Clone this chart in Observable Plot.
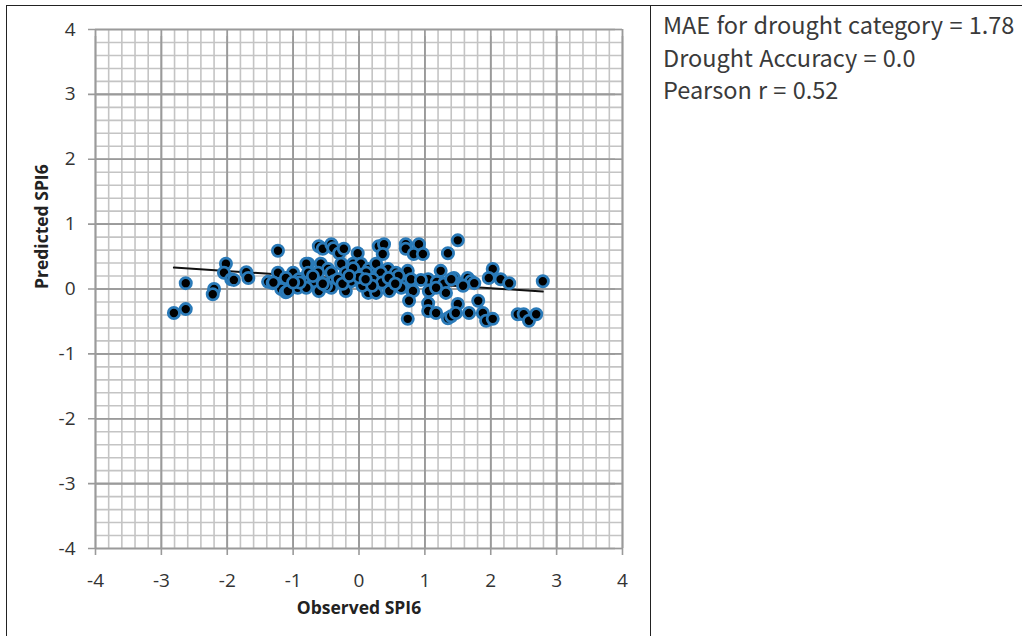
<!DOCTYPE html>
<html>
<head>
<meta charset="utf-8">
<script src="https://cdn.jsdelivr.net/npm/d3@7"></script>
<script src="https://cdn.jsdelivr.net/npm/@observablehq/plot@0.6"></script>
<style>
  html, body { margin: 0; padding: 0; background: #fff; }
  #page { position: relative; width: 1022px; height: 636px; overflow: hidden; }
  #frame { position: absolute; left: 6px; top: 5px; width: 1100px; height: 700px; border-left: 1.5px solid #222; border-top: 1.5px solid #222; }
  #divider { position: absolute; left: 650px; top: 5px; width: 0; height: 700px; border-left: 1.5px solid #222; }
  #chart { position: absolute; left: 0; top: 0; }
  #stats { position: absolute; left: 663px; top: 8px; font-family: "Noto Sans CJK KR", "Noto Sans", sans-serif; font-size: 23.5px; line-height: 32.5px; color: #3a3a3a; white-space: nowrap; word-spacing: 1px; }
</style>
</head>
<body>
<div id="page">
  <div id="chart"></div>
  <div id="frame"></div>
  <div id="divider"></div>
  <div id="stats"></div>
</div>
<script>
// Observed SPI6 (x) and predicted SPI6 (y)
const observed = [
  -2.81, -2.63, -2.63, -2.20, -2.22, -2.02, -2.05, -1.94, -1.90, -1.71, -1.68,
  -1.23, -1.38, -1.31, -1.23, -1.18, -1.11, -1.00, -0.93, -0.83, -0.77,
  -0.61, -0.55, -0.42, -0.39, -0.30, -0.23, -0.02, 0.30, 0.38, 0.36,
  0.71, 0.71, 0.91, 0.83, 0.97, 1.50, 1.35,
  -0.80, -0.58, -0.47, -0.27, -0.09, 0.03, 0.15, 0.26, 0.44,
  -0.77, -0.62, -0.42, -0.20, -0.05, 0.11, 0.33, 0.56,
  -1.11, -0.91, -0.68, -0.38, -0.12, 0.21, 0.49, 0.71,
  -1.08, -0.80, -0.61, -0.42, -0.20, 0.14, 0.26, 0.46,
  0.67, -0.32, -0.09, 0.74, 0.80, 0.79, 1.05, 0.94, 1.24, 1.18,
  1.44, 1.58, 1.65, 1.70, 1.75, 2.03, 1.97, 2.15, 2.28, 2.79,
  0.64, 0.82, 1.06, 1.29, 1.32, 1.58, 1.17, 1.40,
  0.76, 1.05, 1.50, 1.81,
  1.05, 1.17, 1.35, 1.40, 1.47, 1.67, 1.88, 1.93, 2.03, 2.41, 2.50, 2.58, 2.69,
  0.74,
  -0.50, -0.25, 0.05, 0.35, 0.60, -0.70, 0.00, -0.15, 0.20, 0.45, -0.90, -1.30,
  -0.55, 0.10, 0.55, -1.00
];
const predicted = [
  -0.37, -0.31, 0.09, 0.00, -0.08, 0.39, 0.25, 0.15, 0.14, 0.26, 0.17,
  0.59, 0.11, 0.09, 0.25, 0.00, -0.05, 0.25, 0.02, 0.17, 0.39,
  0.66, 0.62, 0.69, 0.63, 0.55, 0.62, 0.55, 0.66, 0.69, 0.54,
  0.69, 0.62, 0.69, 0.54, 0.54, 0.75, 0.55,
  0.39, 0.39, 0.31, 0.39, 0.39, 0.39, 0.31, 0.39, 0.31,
  0.25, 0.25, 0.25, 0.25, 0.25, 0.25, 0.25, 0.25,
  0.17, 0.15, 0.12, 0.12, 0.12, 0.15, 0.12, 0.12,
  -0.03, 0.02, -0.03, 0.02, -0.03, -0.06, -0.06, -0.03,
  0.08, 0.15, 0.32, 0.28, -0.02, 0.15, 0.15, 0.14, 0.28, 0.11,
  0.17, 0.09, 0.17, 0.12, 0.09, 0.31, 0.17, 0.15, 0.09, 0.12,
  0.02, -0.03, -0.03, 0.08, -0.06, 0.05, 0.02, 0.15,
  -0.18, -0.22, -0.23, -0.18,
  -0.34, -0.37, -0.45, -0.42, -0.37, -0.37, -0.37, -0.49, -0.46, -0.39, -0.39, -0.49, -0.39,
  -0.46,
  0.05, 0.08, 0.05, 0.10, 0.20, 0.20, 0.18, 0.20, 0.05, 0.17, 0.10, 0.10,
  0.08, 0.15, 0.08, 0.10
];
// Linear trend line end points
const trendX = [-2.81, 2.79];
const trendY = [0.33, -0.04];
// Axis ticks
const majorTicks = [-4, -3, -2, -1, 0, 1, 2, 3, 4];
const minorTicks = d3.range(-4, 4.0001, 0.2).map(v => Math.round(v * 10) / 10);
const xTitle = "Observed SPI6";
const yTitle = "Predicted SPI6";
const statLines = ["MAE for drought category = 1.78", "Drought Accuracy = 0.0", "Pearson r = 0.52"];

const points = observed.map((x, i) => ({x, y: predicted[i]}));
const trend = trendX.map((x, i) => ({x, y: trendY[i]}));
const fmt = d => String(d);

const plot = Plot.plot({
  width: 650,
  height: 636,
  marginLeft: 95,
  marginRight: 28,
  marginTop: 29,
  marginBottom: 88,
  style: {fontFamily: "'Open Sans', Lato, sans-serif", fontSize: "18px", color: "#222", background: "transparent"},
  x: {domain: [-4, 4], axis: null},
  y: {domain: [-4, 4], axis: null},
  marks: [
    Plot.ruleX(minorTicks, {x: d => d, stroke: "#c4c4c4", strokeWidth: 1.6}),
    Plot.ruleY(minorTicks, {y: d => d, stroke: "#c4c4c4", strokeWidth: 1.6}),
    Plot.tickX(majorTicks, {x: d => d, stroke: "#9a9a9a", strokeWidth: 1.6, dy: 7}),
    Plot.tickY(majorTicks, {y: d => d, stroke: "#9a9a9a", strokeWidth: 1.6, dx: -7}),
    Plot.ruleX(majorTicks, {x: d => d, stroke: "#9a9a9a", strokeWidth: 1.6}),
    Plot.ruleY(majorTicks, {y: d => d, stroke: "#9a9a9a", strokeWidth: 1.6}),
    Plot.text(majorTicks, {x: d => d, frameAnchor: "bottom", dy: 32, text: fmt, fontSize: 19, fill: "#333", lineAnchor: "middle"}),
    Plot.text(majorTicks, {y: d => d, frameAnchor: "left", dx: -20, text: fmt, fontSize: 19, fill: "#333", textAnchor: "end"}),
    Plot.line(trend, {x: "x", y: "y", stroke: "#111", strokeWidth: 2}),
    Plot.dot(points, {x: "x", y: "y", r: 5.6, fill: "#000", stroke: "#2a7ab8", strokeWidth: 2.8}),
    Plot.text([xTitle], {frameAnchor: "bottom", dy: 60, text: d => d, fontWeight: "bold", fontSize: 17.5, fill: "#222", lineAnchor: "middle"}),
    Plot.text([yTitle], {frameAnchor: "left", dx: -53, text: d => d, rotate: -90, fontWeight: "bold", fontSize: 17.5, fill: "#222", lineAnchor: "middle"})
  ]
});
document.getElementById("chart").appendChild(plot);
document.getElementById("stats").innerHTML = statLines.map(s => `<div>${s}</div>`).join("");
</script>
</body>
</html>
